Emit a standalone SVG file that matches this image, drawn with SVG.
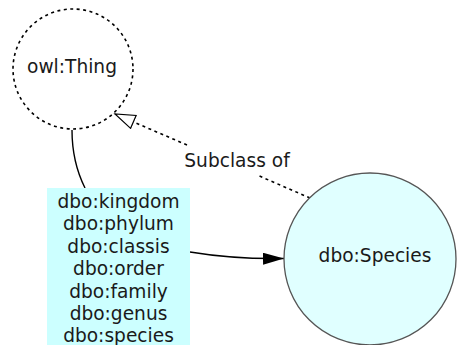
<svg xmlns="http://www.w3.org/2000/svg" width="457" height="345" viewBox="0 0 457 345">
<style>
text{font-family:"DejaVu Sans",sans-serif;font-size:18.6px;fill:#1a1a1a;text-anchor:middle}
.dash{fill:none;stroke:#000;stroke-width:1.6;stroke-dasharray:3 3.5}
.solid{fill:none;stroke:#000;stroke-width:1.4}
</style>
<defs>
<marker id="filled" markerUnits="userSpaceOnUse" markerWidth="22" markerHeight="14" refX="21" refY="6" orient="auto">
<path d="M0,0 L21,6 L0,12 Z" fill="#000"/>
</marker>
<marker id="hollow" markerUnits="userSpaceOnUse" markerWidth="24" markerHeight="20" refX="21" refY="8" orient="auto">
<path d="M1,1 L21,8 L1,15 Z" fill="#fff" stroke="#000" stroke-width="1.2"/>
</marker>
</defs>
<rect width="457" height="345" fill="#fff"/>
<g id="connectors">
<path class="solid" d="M72,130 C72,155 77,172 85,188"/>
<path class="solid" d="M190,252 C220,257 250,259 284,258.5" marker-end="url(#filled)"/>
<path class="dash" d="M310,198 L257,175"/>
<path class="dash" d="M187,145 L115,114" marker-end="url(#hollow)"/>
<text x="237" y="167">Subclass of</text>
</g>
<g id="owlThing">
<circle cx="73" cy="69" r="60" fill="#fff" stroke="#000" stroke-width="1.6" stroke-dasharray="3 3.5"/>
<text x="72" y="73">owl:Thing</text>
</g>
<g id="properties">
<rect x="47" y="188" width="143" height="160" fill="#ccffff"/>
<text x="118.5" y="208">dbo:kingdom</text>
<text x="118.5" y="230">dbo:phylum</text>
<text x="118.5" y="252.5">dbo:classis</text>
<text x="118.5" y="275">dbo:order</text>
<text x="118.5" y="297.5">dbo:family</text>
<text x="118.5" y="320">dbo:genus</text>
<text x="118.5" y="342">dbo:species</text>
</g>
<g id="species">
<circle cx="370" cy="259" r="86" fill="#e0ffff" stroke="#555" stroke-width="1.3"/>
<text x="375" y="262">dbo:Species</text>
</g>
</svg>
